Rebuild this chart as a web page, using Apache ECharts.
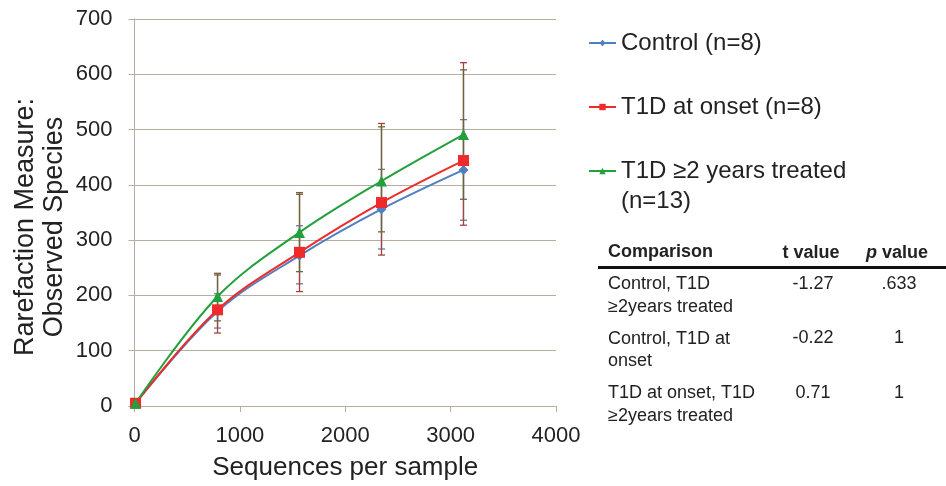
<!DOCTYPE html>
<html>
<head>
<meta charset="utf-8">
<script src="https://cdn.jsdelivr.net/npm/echarts@6/dist/echarts.min.js"></script>
<style>
  html, body { margin: 0; padding: 0; background: #fff; }
  #chart { width: 946px; height: 486px; }
</style>
</head>
<body>
<div id="chart"></div>
<script>
// sequences per sample (rarefaction depths)
const depths = [10, 788, 1566, 2344, 3122];

const control = [5, 171, 272, 356, 427];
const controlLow = [5, 141, 221, 284, 336];
const controlHigh = [5, 203, 326, 428, 518];

const onset = [5, 174, 278, 368, 444];
const onsetLow = [5, 132, 207, 273, 327];
const onsetHigh = [5, 237, 383, 511, 621];

const treated = [5, 198, 314, 407, 491];
const treatedLow = [5, 154, 243, 315, 374];
const treatedHigh = [5, 240, 386, 505, 608];

const names = ["Control (n=8)", "T1D at onset (n=8)", "T1D \u22652 years treated"];

// comparison table
const tableRows = [
  ["Control, T1D\n\u22652years treated", "-1.27", ".633"],
  ["Control, T1D at\nonset", "-0.22", "1"],
  ["T1D at onset, T1D\n\u22652years treated", "0.71", "1"]
];

const font = "Liberation Sans, Arial, sans-serif";
const gridColor = "#b9aca0";

const pairs = (ys) => depths.map((x, i) => [x, ys[i]]);
const errData = (lo, hi) => depths.map((x, i) => [x, lo[i], hi[i]]);

const errSeries = (lo, hi, color) => ({
  type: "custom",
  data: errData(lo, hi),
  z: 1,
  silent: true,
  renderItem: (params, api) => {
    const x = api.value(0);
    const a = api.coord([x, api.value(1)]);
    const b = api.coord([x, api.value(2)]);
    const w = 3.5;
    const st = { stroke: color, lineWidth: 1.3 };
    return {
      type: "group",
      children: [
        { type: "line", shape: { x1: a[0], y1: a[1], x2: b[0], y2: b[1] }, style: st },
        { type: "line", shape: { x1: a[0] - w, y1: a[1], x2: a[0] + w, y2: a[1] }, style: st },
        { type: "line", shape: { x1: b[0] - w, y1: b[1], x2: b[0] + w, y2: b[1] }, style: st }
      ]
    };
  }
});

const lineSeries = (name, ys, color, symbol, size) => ({
  name,
  type: "line",
  data: pairs(ys),
  smooth: 0.35,
  z: 3,
  symbol,
  symbolSize: size,
  lineStyle: { color, width: 2 },
  itemStyle: { color },
  emphasis: { disabled: true }
});

const graphics = [];
// y axis title, two centred lines
graphics.push({
  type: "text", x: 40, y: 227, rotation: Math.PI / 2,
  style: {
    text: "Rarefaction Measure:\nObserved Species", font: "27px " + font, fill: "#222",
    align: "center", verticalAlign: "middle", lineHeight: 29
  }
});
// (n=13) continues the third legend entry on a second line
graphics.push({
  type: "text", left: 621, top: 189,
  style: { text: "(n=13)", font: "24px " + font, fill: "#222" }
});
// table header
graphics.push({ type: "text", left: 608, top: 243, style: { text: "Comparison", font: "bold 18px " + font, fill: "#222" } });
graphics.push({ type: "text", x: 811, y: 253, style: { text: "t value", font: "bold 18px " + font, fill: "#222", align: "center", verticalAlign: "middle" } });
graphics.push({
  type: "text", x: 897, y: 253,
  style: {
    text: "{i|p} value", font: "bold 18px " + font, fill: "#222", align: "center", verticalAlign: "middle",
    rich: { i: { fontStyle: "italic", fontWeight: "bold", fontSize: 18, fontFamily: font } }
  }
});
graphics.push({ type: "line", shape: { x1: 598, y1: 267.5, x2: 946, y2: 267.5 }, style: { stroke: "#111", lineWidth: 3 } });
tableRows.forEach((r, i) => {
  const y = 284 + i * 54.5;
  graphics.push({ type: "text", left: 608, top: y - 11, style: { text: r[0], font: "18px " + font, fill: "#222", lineHeight: 22.5 } });
  graphics.push({ type: "text", x: 813, y: y, style: { text: r[1], font: "18px " + font, fill: "#222", align: "center", verticalAlign: "middle" } });
  graphics.push({ type: "text", x: 899, y: y, style: { text: r[2], font: "18px " + font, fill: "#222", align: "center", verticalAlign: "middle" } });
});

const option = {
  backgroundColor: "#fff",
  animation: false,
  textStyle: { fontFamily: font },
  grid: { left: 134.5, right: 390, top: 19, bottom: 78.5 },
  legend: {
    orient: "vertical",
    left: 583,
    top: 26,
    itemGap: 40,
    itemWidth: 27,
    itemHeight: 8,
    data: names,
    textStyle: { fontSize: 24, color: "#222", fontFamily: font }
  },
  xAxis: {
    type: "value",
    min: 0, max: 4000, interval: 1000,
    name: "Sequences per sample",
    nameLocation: "middle",
    nameGap: 49,
    nameTextStyle: { fontSize: 26, color: "#222" },
    axisLine: { show: true, lineStyle: { color: gridColor, width: 1 } },
    axisTick: { show: true, length: 6, lineStyle: { color: gridColor } },
    axisLabel: { fontSize: 22, color: "#222", margin: 19, formatter: (v) => String(v) },
    splitLine: { show: false }
  },
  yAxis: {
    type: "value",
    min: 0, max: 700, interval: 100,
    axisLine: { show: true, lineStyle: { color: gridColor, width: 1 } },
    axisTick: { show: true, length: 6, lineStyle: { color: gridColor } },
    axisLabel: { fontSize: 22, color: "#222", margin: 22 },
    splitLine: { show: true, lineStyle: { color: gridColor, width: 1 } }
  },
  graphic: graphics,
  series: [
    errSeries(controlLow, controlHigh, "#6a78a6"),
    errSeries(onsetLow, onsetHigh, "#a8403c"),
    errSeries(treatedLow, treatedHigh, "#66683c"),
    lineSeries(names[0], control, "#4f7fc0", "diamond", 10),
    lineSeries(names[1], onset, "#ee2a2a", "rect", 11),
    lineSeries(names[2], treated, "#22a03c", "triangle", 11)
  ]
};

const chart = echarts.init(document.getElementById("chart"));
chart.setOption(option);
</script>
</body>
</html>
